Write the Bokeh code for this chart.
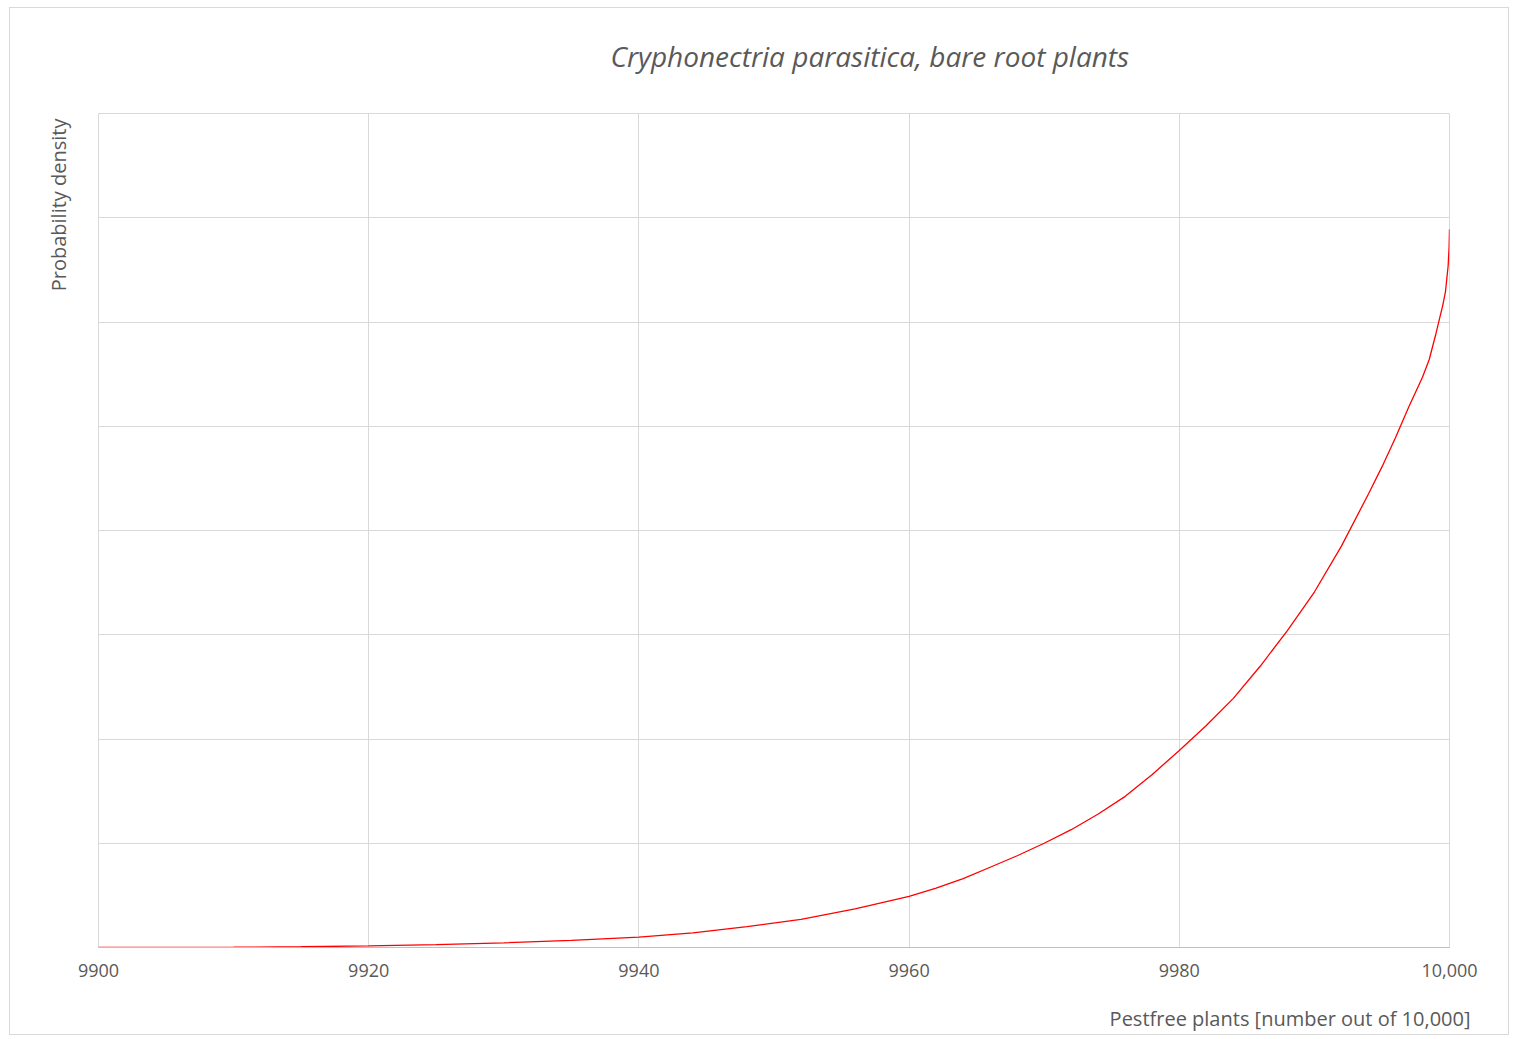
import math
from bokeh.plotting import figure
from bokeh.models import Range1d, FixedTicker, Title
from bokeh.embed import file_html
from bokeh.resources import INLINE

# Data
pestfree = [9900, 9905, 9910, 9915, 9920, 9925, 9930, 9935, 9940, 9944, 9948,
            9952, 9956, 9960, 9962, 9964, 9966, 9968, 9970, 9972, 9974, 9976,
            9978, 9980, 9982, 9984, 9986, 9988, 9990, 9992, 9994, 9995, 9996,
            9997, 9998, 9998.5, 9999, 9999.5, 9999.7, 9999.9, 9999.97, 10000]
density = [0.0, 0.001, 0.003, 0.007, 0.015, 0.027, 0.045, 0.068, 0.10, 0.14, 0.20,
           0.27, 0.37, 0.49, 0.57, 0.66, 0.77, 0.88, 1.00, 1.13, 1.28, 1.45,
           1.66, 1.89, 2.13, 2.39, 2.70, 3.04, 3.41, 3.85, 4.35, 4.61, 4.89,
           5.19, 5.47, 5.64, 5.89, 6.16, 6.29, 6.54, 6.72, 6.89]

x_ticks = [9900, 9920, 9940, 9960, 9980, 10000]
x_tick_labels = ["9900", "9920", "9940", "9960", "9980", "10,000"]
y_grid = [0, 1, 2, 3, 4, 5, 6, 7, 8]

title_text = "Cryphonectria parasitica, bare root plants"
x_label = "Pestfree plants [number out of 10,000]"
y_label = "Probability density"

TEXT = "#595959"
GRID = "#d9d9d9"
FONT = "Open Sans"

W, H = 1500, 1028
p = figure(width=W, height=H, output_backend="svg", toolbar_location=None,
           x_range=Range1d(9900, 10000), y_range=Range1d(0, 8))
p.min_border_left = 88
p.min_border_top = 105
p.min_border_bottom = 89
p.min_border_right = 61
p.outline_line_color = GRID
p.background_fill_color = "white"
p.border_fill_color = "white"
p.styles = {"border": "1px solid #d9d9d9", "margin-left": "9px", "margin-top": "7px"}

p.line(pestfree, density, line_color="#ff0000", line_width=1.3)

# x axis
xa = p.xaxis[0]
xa.ticker = FixedTicker(ticks=x_ticks)
xa.major_label_overrides = {t: l for t, l in zip(x_ticks, x_tick_labels)}
xa.major_tick_line_color = None
xa.minor_tick_line_color = None
xa.axis_line_color = "#bfbfbf"
xa.major_label_text_font = FONT
xa.major_label_text_font_size = "18px"
xa.major_label_text_color = TEXT
xa.major_label_standoff = 10

# y axis: invisible (only grid)
ya = p.yaxis[0]
ya.ticker = FixedTicker(ticks=y_grid)
ya.visible = False

p.xgrid[0].ticker = FixedTicker(ticks=x_ticks)
p.ygrid[0].ticker = FixedTicker(ticks=y_grid)
p.xgrid.grid_line_color = GRID
p.ygrid.grid_line_color = GRID
p.xgrid.grid_line_width = 1
p.ygrid.grid_line_width = 1

# Chart title (trailing empty line lifts it away from the frame)
p.title = Title(text=title_text + "\n", align="left", offset=512, standoff=1,
                vertical_align="bottom",
                text_font=FONT, text_font_style="italic", text_font_size="28px",
                text_color=TEXT)

# Axis titles
p.add_layout(Title(text=y_label, align="right", offset=5, standoff=54,
                   text_font=FONT, text_font_style="normal", text_font_size="20px",
                   text_color=TEXT), "left")
p.add_layout(Title(text="\n" + x_label, align="right", offset=-21, standoff=0,
                   vertical_align="bottom", text_line_height=0.9,
                   text_font=FONT, text_font_style="normal", text_font_size="20px",
                   text_color=TEXT), "below")

open("out.html", "w").write(file_html(p, INLINE))
